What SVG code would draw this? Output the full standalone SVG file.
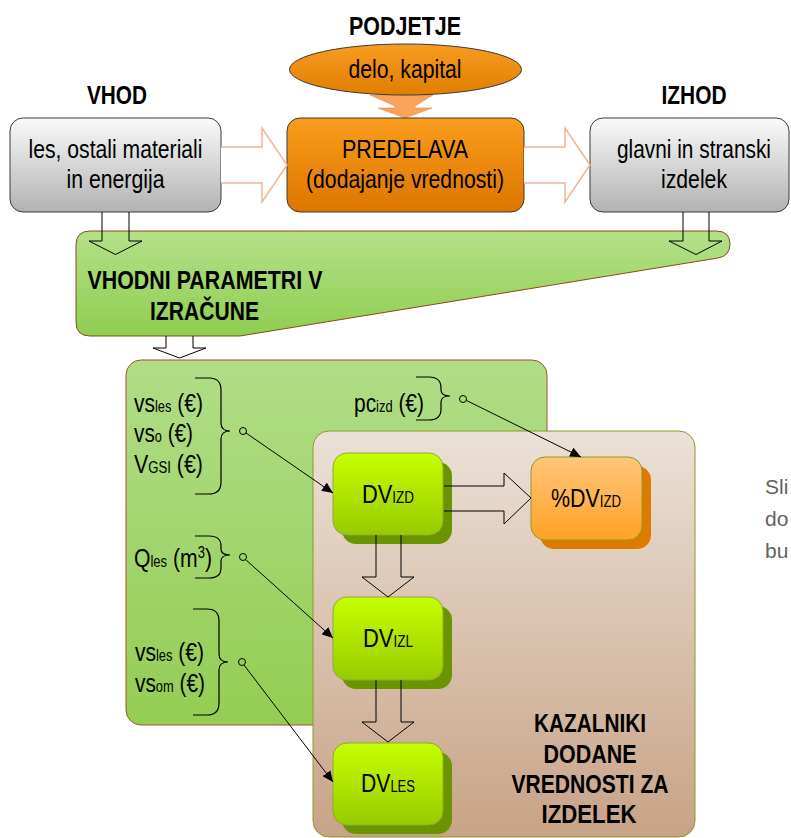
<svg xmlns="http://www.w3.org/2000/svg" width="791" height="838" viewBox="0 0 791 838">
<defs>
<linearGradient id="gGray" x1="0" y1="0" x2="0" y2="1"><stop offset="0" stop-color="#fafafa"/><stop offset="1" stop-color="#b2b2b2"/></linearGradient>
<linearGradient id="gOrange" x1="0" y1="0" x2="0" y2="1"><stop offset="0" stop-color="#f99d1c"/><stop offset="1" stop-color="#dc7600"/></linearGradient>
<linearGradient id="gEll" x1="0" y1="0" x2="0" y2="1"><stop offset="0" stop-color="#f89c22"/><stop offset="1" stop-color="#e07e00"/></linearGradient>
<linearGradient id="gBanner" x1="0" y1="0" x2="0" y2="1"><stop offset="0" stop-color="#b5e08a"/><stop offset="1" stop-color="#8fce4f"/></linearGradient>
<linearGradient id="gPanel" x1="0" y1="0" x2="0" y2="1"><stop offset="0" stop-color="#b1dd87"/><stop offset="1" stop-color="#94cd53"/></linearGradient>
<linearGradient id="gBrown" x1="0" y1="0" x2="0" y2="1"><stop offset="0" stop-color="#ebe1d7"/><stop offset="1" stop-color="#c8a386"/></linearGradient>
<linearGradient id="gLime" x1="0" y1="0" x2="0" y2="1"><stop offset="0" stop-color="#c6ff00"/><stop offset="1" stop-color="#98cb00"/></linearGradient>
<linearGradient id="gPct" x1="0" y1="0" x2="0" y2="1"><stop offset="0" stop-color="#ffc679"/><stop offset="1" stop-color="#ffa126"/></linearGradient>
<marker id="ah" markerWidth="12" markerHeight="10" refX="11" refY="5" orient="auto" markerUnits="userSpaceOnUse"><path d="M0,0 L11,5 L0,10 Z" fill="#000"/></marker>
</defs>
<style>
text{font-family:"Liberation Sans Narrow","Liberation Sans",Arial,sans-serif;fill:#000}
.h{font-weight:bold;font-size:25px}
.t{font-size:26px}
.c{text-anchor:middle}
.sub{font-size:16px}
.box{stroke:#3a3a3a;stroke-width:1}
.bigarr{fill:#fff;stroke:#f2b48e;stroke-width:1.5}
.blk{fill:none;stroke:#000;stroke-width:1}
.thin{fill:none;stroke:#000;stroke-width:1}
.brace{fill:none;stroke:#000;stroke-width:1.2}
.dot{fill:none;stroke:#000;stroke-width:1}
.lime{fill:url(#gLime);stroke:#8fa83c;stroke-width:1}
.limesh{fill:#6b9500}
.gray{font-family:"Liberation Sans",Arial,sans-serif;font-size:21px;fill:#626262}
</style>

<g id="heading-podjetje"><text class="h c" x="405" y="35" textLength="112" lengthAdjust="spacingAndGlyphs">PODJETJE</text></g>
<g id="heading-vhod"><text class="h c" x="117" y="104" textLength="60" lengthAdjust="spacingAndGlyphs">VHOD</text></g>
<g id="heading-izhod"><text class="h c" x="694" y="104" textLength="65" lengthAdjust="spacingAndGlyphs">IZHOD</text></g>

<g id="resources">
<polygon points="370,95 433,95 415,106 415,108 432,108 405,118 378,108 395,108 395,106" fill="#f9a35c" stroke="#e48a48" stroke-width="0.6"/>
<ellipse cx="405.5" cy="69.5" rx="116" ry="25.5" fill="url(#gEll)" stroke="#3a3a3a" stroke-width="1"/>
<text class="t c" x="405" y="78" textLength="113" lengthAdjust="spacingAndGlyphs">delo, kapital</text>
</g>

<g id="vhod">
<rect class="box" x="10" y="118" width="211" height="94" rx="13" fill="url(#gGray)"/>
<text class="t c" x="115.5" y="158" textLength="174" lengthAdjust="spacingAndGlyphs">les, ostali materiali</text>
<text class="t c" x="115.5" y="188" textLength="98" lengthAdjust="spacingAndGlyphs">in energija</text>
</g>

<g id="predelava">
<rect class="box" x="287" y="118" width="237" height="94" rx="13" fill="url(#gOrange)"/>
<text class="t c" x="405" y="158" textLength="126" lengthAdjust="spacingAndGlyphs">PREDELAVA</text>
<text class="t c" x="405" y="188" textLength="198" lengthAdjust="spacingAndGlyphs">(dodajanje vrednosti)</text>
</g>

<g id="izhod">
<rect class="box" x="590" y="118" width="199" height="94" rx="13" fill="url(#gGray)"/>
<text class="t c" x="694" y="158" textLength="154" lengthAdjust="spacingAndGlyphs">glavni in stranski</text>
<text class="t c" x="694" y="188" textLength="66" lengthAdjust="spacingAndGlyphs">izdelek</text>
</g>

<g id="vhodni-parametri">
<path d="M90,231 H716 Q730,231 730,244 Q730,256 718,258 L240,336 H90 Q76,336 76,322 V245 Q76,231 90,231 Z" fill="url(#gBanner)" stroke="#8b4a1c" stroke-width="1"/>
<text class="h" x="87.5" y="289" textLength="235" lengthAdjust="spacingAndGlyphs">VHODNI PARAMETRI V</text>
<text class="h" x="150" y="320" textLength="109" lengthAdjust="spacingAndGlyphs">IZRAČUNE</text>
</g>

<g id="parametri-panel">
<rect x="126" y="360" width="421" height="365" rx="15" fill="url(#gPanel)" stroke="#a0522d" stroke-width="1"/>
<text class="t" x="134" y="412" textLength="69" lengthAdjust="spacingAndGlyphs">vs<tspan class="sub">les</tspan> (€)</text>
<text class="t" x="134" y="442" textLength="59" lengthAdjust="spacingAndGlyphs">vs<tspan class="sub">o</tspan> (€)</text>
<text class="t" x="134" y="473" textLength="69" lengthAdjust="spacingAndGlyphs">V<tspan class="sub">GSI</tspan> (€)</text>
<text class="t" x="134" y="567" textLength="78" lengthAdjust="spacingAndGlyphs">Q<tspan class="sub">les</tspan> (m<tspan class="sub" dy="-9">3</tspan><tspan dy="9">)</tspan></text>
<text class="t" x="354" y="412" textLength="70" lengthAdjust="spacingAndGlyphs">pc<tspan class="sub">izd</tspan> (€)</text>
<text class="t" x="135" y="661" textLength="69" lengthAdjust="spacingAndGlyphs">vs<tspan class="sub">les</tspan> (€)</text>
<text class="t" x="135" y="692" textLength="70" lengthAdjust="spacingAndGlyphs">vs<tspan class="sub">om</tspan> (€)</text>
<path class="brace" d="M195,378 H209 Q221,378 221,390 V423 Q221,431 230,431 Q221,431 221,439 V482 Q221,494 209,494 H195"/>
<path class="brace" d="M195,536 H209 Q221,536 221,546 V549 Q221,555 230,555 Q221,555 221,561 V568 Q221,578 209,578 H195"/>
<path class="brace" d="M193,609 H207 Q219,609 219,621 V654 Q219,662 228,662 Q219,662 219,670 V703 Q219,715 207,715 H193"/>
<path class="brace" d="M416,377 H429 Q441,377 441,388 V390 Q441,396 450,396 Q441,396 441,402 V409 Q441,420 429,420 H416"/>
</g>

<g id="kazalniki-panel">
<rect x="313" y="431" width="382" height="406" rx="16" fill="url(#gBrown)" stroke="#8a9a2a" stroke-width="1"/>
<text class="h c" x="590" y="732" textLength="112" lengthAdjust="spacingAndGlyphs">KAZALNIKI</text>
<text class="h c" x="590" y="763" textLength="93" lengthAdjust="spacingAndGlyphs">DODANE</text>
<text class="h c" x="590" y="793" textLength="157" lengthAdjust="spacingAndGlyphs">VREDNOSTI ZA</text>
<text class="h c" x="589" y="823" textLength="95" lengthAdjust="spacingAndGlyphs">IZDELEK</text>
</g>

<g id="dv-izd">
<rect class="limesh" x="342" y="462" width="110" height="82" rx="14"/>
<rect class="lime" x="333" y="453" width="110" height="82" rx="14"/>
<text class="t c" x="388" y="503" textLength="52" lengthAdjust="spacingAndGlyphs">DV<tspan class="sub">IZD</tspan></text>
</g>

<g id="pct-dv-izd">
<rect x="540" y="466" width="111" height="83" rx="14" fill="#dd7b00"/>
<rect x="531" y="457" width="111" height="83" rx="14" fill="url(#gPct)" stroke="#8a9a2a" stroke-width="1"/>
<text class="t c" x="586" y="507" textLength="70" lengthAdjust="spacingAndGlyphs">%DV<tspan class="sub">IZD</tspan></text>
</g>

<g id="dv-izl">
<rect class="limesh" x="342" y="606" width="110" height="83" rx="14"/>
<rect class="lime" x="333" y="597" width="110" height="83" rx="14"/>
<text class="t c" x="388" y="647" textLength="50" lengthAdjust="spacingAndGlyphs">DV<tspan class="sub">IZL</tspan></text>
</g>

<g id="dv-les">
<rect class="limesh" x="342" y="752" width="110" height="82" rx="14"/>
<rect class="lime" x="333" y="743" width="110" height="82" rx="14"/>
<text class="t c" x="388" y="792" textLength="54" lengthAdjust="spacingAndGlyphs">DV<tspan class="sub">LES</tspan></text>
</g>

<g id="connectors">
<path class="bigarr" d="M221,147 H262 V128 L287,165 L262,202 V183 H221"/>
<path class="bigarr" d="M524,147 H565 V128 L590,165 L565,202 V183 H524"/>
<path class="blk" d="M102,212 V241 H89 L115.5,254.5 L142,241 H129 V212"/>
<path class="blk" d="M683,212 V241 H669 L696,254.5 L722,241 H709 V212"/>
<path class="blk" d="M166,336 V348 H153 L179.5,358 L206,348 H193 V336"/>
<path class="blk" d="M444,486 H504 V473 L531,498 L504,524 V511 H444"/>
<path class="blk" d="M376,535 V577 H362 L388,597 L414,577 H401 V535"/>
<path class="blk" d="M376,680 V722 H362 L388,742 L414,722 H401 V680"/>
<circle class="dot" cx="243" cy="431" r="3.5"/>
<circle class="dot" cx="243" cy="557" r="3.5"/>
<circle class="dot" cx="242" cy="662" r="3.5"/>
<circle class="dot" cx="463" cy="399" r="3.5"/>
<line class="thin" x1="246" y1="433" x2="333" y2="493" marker-end="url(#ah)"/>
<line class="thin" x1="245.5" y1="559.5" x2="333" y2="638" marker-end="url(#ah)"/>
<line class="thin" x1="244" y1="665" x2="333" y2="782" marker-end="url(#ah)"/>
<line class="thin" x1="466.5" y1="400.5" x2="581" y2="457" marker-end="url(#ah)"/>
</g>

<g id="caption-fragment">
<text class="gray" x="765" y="494">Sli</text>
<text class="gray" x="765" y="526">do</text>
<text class="gray" x="765" y="558">bu</text>
</g>
</svg>
